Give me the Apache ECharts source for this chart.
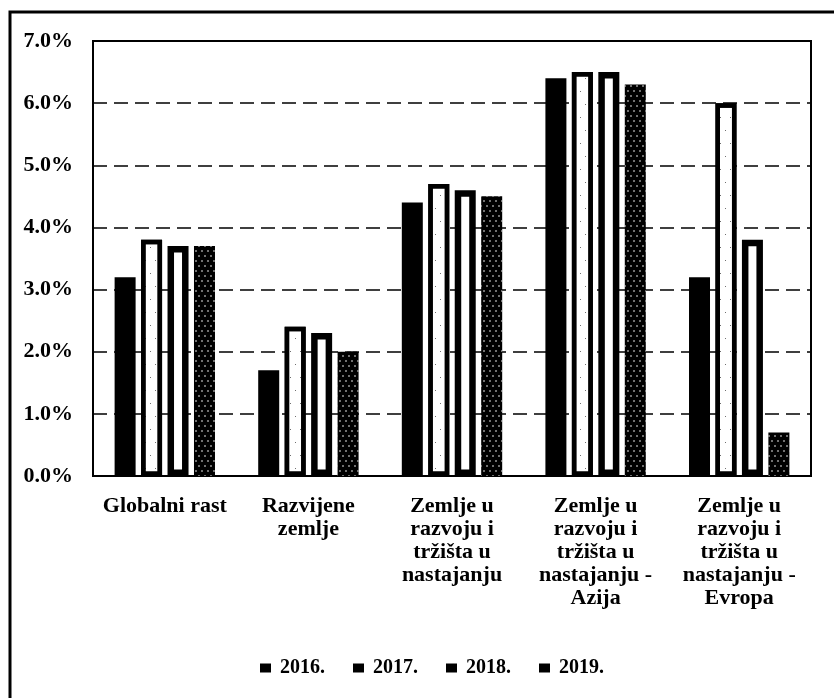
<!DOCTYPE html>
<html>
<head>
<meta charset="utf-8">
<title>Rast</title>
<script src="https://cdn.jsdelivr.net/npm/echarts@6/dist/echarts.min.js"></script>
<style>
  html, body { margin: 0; padding: 0; background: #fff; }
  #chart { width: 834px; height: 698px; }
</style>
</head>
<body>
<div id="chart"></div>
<script>
// kategorije i vrijednosti (procenti)
const categories = [
  'Globalni rast',
  'Razvijene\nzemlje',
  'Zemlje u\nrazvoju i\ntržišta u\nnastajanju',
  'Zemlje u\nrazvoju i\ntržišta u\nnastajanju -\nAzija',
  'Zemlje u\nrazvoju i\ntržišta u\nnastajanju -\nEvropa'
];
const years = ['2016.', '2017.', '2018.', '2019.'];
const v2016 = [3.2, 1.7, 4.4, 6.4, 3.2];
const v2017 = [3.8, 2.4, 4.7, 6.5, 6.0];
const v2018 = [3.7, 2.3, 4.6, 6.5, 3.8];
const v2019 = [3.7, 2.0, 4.5, 6.3, 0.7];

const font = 'Liberation Serif';

let myChart = echarts.init(document.getElementById('chart'));

myChart.setOption({
  animation: false,
  backgroundColor: '#fff',
  // okvir oko cijele slike (vidi se samo lijevo i gore)
  graphic: [{
    type: 'rect',
    shape: { x: 10, y: 12, width: 900, height: 800 },
    style: { fill: 'none', stroke: '#000', lineWidth: 3 },
    z: 100
  }],
  grid: {
    left: 93,
    right: 23,
    top: 41,
    bottom: 222,
    show: true,
    borderColor: '#000',
    borderWidth: 2
  },
  legend: {
    // u legendi su sve oznake crne
    data: years.map(function (y) {
      return { name: y, itemStyle: { color: '#000', borderWidth: 0, decal: 'none' } };
    }),
    top: 653,
    left: 255,
    icon: 'rect',
    itemWidth: 11,
    itemHeight: 9,
    itemGap: 28,
    textStyle: {
      fontFamily: font,
      fontWeight: 'bold',
      fontSize: 20,
      color: '#000',
      padding: [0, 0, 0, 4]
    }
  },
  xAxis: {
    type: 'category',
    data: categories,
    axisTick: { show: false },
    axisLine: { lineStyle: { color: '#000', width: 2 } },
    axisLabel: {
      interval: 0,
      margin: 19,
      fontFamily: font,
      fontWeight: 'bold',
      fontSize: 22,
      lineHeight: 23,
      color: '#000',
      align: 'center'
    }
  },
  yAxis: {
    type: 'value',
    min: 0,
    max: 7,
    interval: 1,
    axisLine: { show: true, lineStyle: { color: '#000', width: 2 } },
    axisTick: { show: false },
    axisLabel: {
      margin: 20,
      fontFamily: font,
      fontWeight: 'bold',
      fontSize: 22,
      color: '#000',
      formatter: function (v) { return v.toFixed(1) + '%'; }
    },
    splitLine: {
      lineStyle: { color: '#000', width: 1.5, type: [14, 7] }
    }
  },
  series: [
    {
      name: years[0],
      type: 'bar',
      data: v2016,
      barWidth: 21,
      barGap: '26%',
      itemStyle: { color: '#000' }
    },
    {
      name: years[1],
      type: 'bar',
      data: v2017,
      barWidth: 21,
      barGap: '26%',
      itemStyle: {
        color: '#fff',
        borderColor: '#000',
        borderWidth: 4.5,
        decal: {
          symbol: 'rect',
          symbolSize: 0.8,
          color: 'rgba(0,0,0,0.7)',
          dashArrayX: [[1, 9], [0, 5, 1, 4]],
          dashArrayY: [1, 12]
        }
      }
    },
    {
      name: years[2],
      type: 'bar',
      data: v2018,
      barWidth: 21,
      barGap: '26%',
      itemStyle: { color: '#fff', borderColor: '#000', borderWidth: 6.5 }
    },
    {
      name: years[3],
      type: 'bar',
      data: v2019,
      barWidth: 21,
      barGap: '26%',
      itemStyle: {
        color: '#000',
        decal: {
          symbol: 'circle',
          symbolSize: 0.8,
          color: '#fff',
          dashArrayX: [[2, 4], [0, 3, 2, 1]],
          dashArrayY: [2, 3]
        }
      }
    }
  ]
});
</script>
</body>
</html>
